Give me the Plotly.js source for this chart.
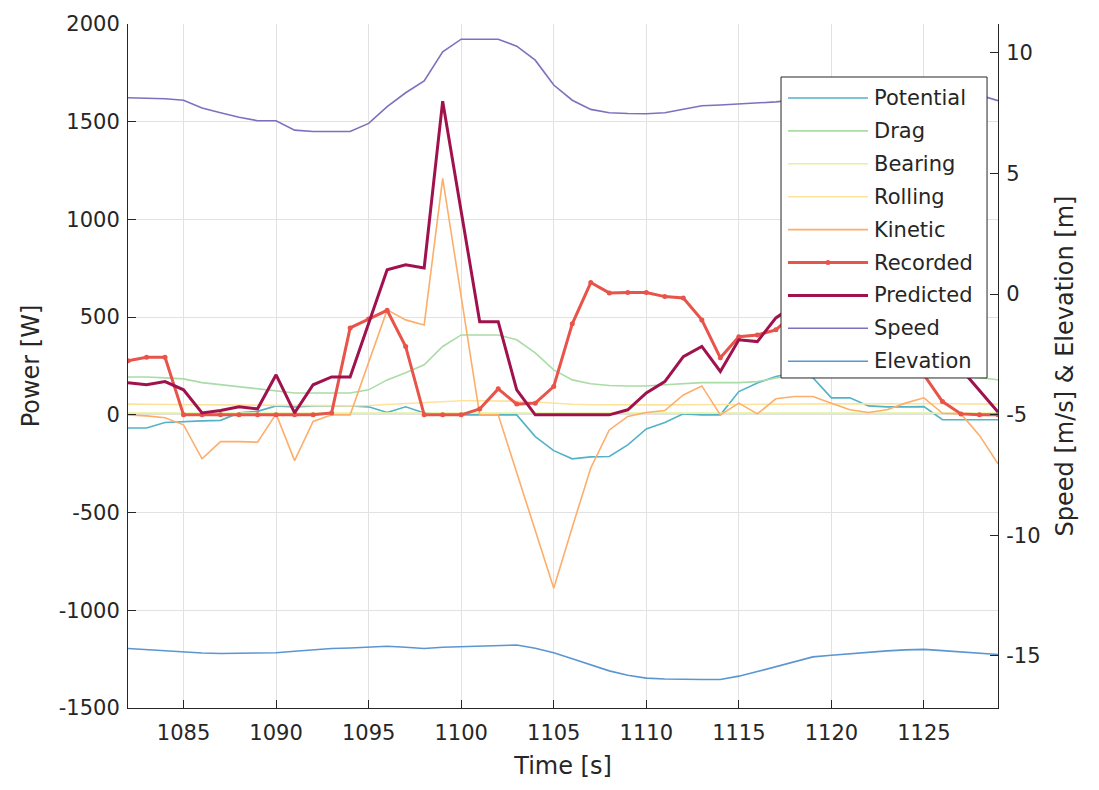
<!DOCTYPE html>
<html>
<head>
<meta charset="utf-8">
<script src="https://cdn.plot.ly/plotly-3.0.1.min.js"></script>
<style>
  html, body { margin: 0; padding: 0; background: #ffffff; }
  #chart { width: 1099px; height: 790px; }
</style>
</head>
<body>
<div id="chart"></div>
<script>
// Time stamps [s]
const time = [1082, 1083, 1084, 1085, 1086, 1087, 1088, 1089, 1090, 1091,
              1092, 1093, 1094, 1095, 1096, 1097, 1098, 1099, 1100, 1101,
              1102, 1103, 1104, 1105, 1106, 1107, 1108, 1109, 1110, 1111,
              1112, 1113, 1114, 1115, 1116, 1117, 1118, 1119, 1120, 1121,
              1122, 1123, 1124, 1125, 1126, 1127, 1128, 1129];

// Power components [W]
const potential = [-67, -67, -39, -34, -31, -28, 10, 18, 46, 41,
                   45, 45, 45, 41, 12, 41, 10, 0, 0, 0,
                   0, 0, -111, -183, -225, -215, -213, -154, -72, -39,
                   5, 0, 0, 119, 163, 196, 215, 190, 87, 87,
                   46, 41, 41, 42, -25, -25, -25, -25];

const drag = [194, 194, 189, 184, 165, 154, 143, 133, 123, 112,
              112, 112, 112, 128, 179, 215, 256, 350, 409, 409,
              409, 384, 317, 230, 179, 159, 150, 148, 148, 154,
              159, 165, 165, 165, 170, 189, 200, 215, 225, 225,
              220, 210, 205, 200, 198, 196, 190, 180];

const bearing = [9, 9, 9, 9, 9, 9, 9, 8, 8, 8,
                 8, 8, 8, 8, 9, 9, 10, 11, 11, 11,
                 11, 11, 11, 10, 9, 9, 9, 9, 9, 9,
                 9, 9, 9, 9, 9, 9, 9, 9, 9, 9,
                 9, 9, 9, 9, 9, 9, 9, 9];

const rolling = [55, 55, 55, 54, 52, 51, 50, 49, 49, 46,
                 46, 46, 46, 48, 53, 57, 60, 68, 72, 72,
                 72, 70, 66, 59, 54, 52, 51, 51, 51, 51,
                 52, 53, 53, 54, 54, 54, 55, 55, 56, 56,
                 57, 57, 57, 57, 57, 57, 56, 55];

const kinetic = [0, -5, -15, -51, -225, -137, -137, -140, 5, -234,
                 -34, 0, 0, 265, 537, 486, 460, 1210, 605, 0,
                 0, -295, -590, -887, -575, -272, -77, -8, 12, 22,
                 102, 148, 0, 60, 5, 82, 94, 94, 60, 26,
                 12, 26, 60, 87, 8, 5, -105, -250];

const recorded = [277, 295, 295, 0, 0, 0, 0, 0, 0, 0,
                  0, 10, 445, 490, 535, 350, 0, 0, 0, 30,
                  133, 55, 60, 145, 466, 677, 624, 626, 626, 605,
                  598, 486, 292, 400, 409, 435, 520, 560, 600, 580,
                  540, 450, 330, 205, 68, 5, 0, 0];

const predicted = [164, 154, 170, 128, 10, 22, 41, 31, 205, 10,
                   154, 194, 194, 470, 742, 768, 752, 1605, 1041, 477,
                   477, 128, 0, 0, 0, 0, 0, 26, 112, 170,
                   298, 350, 222, 384, 375, 496, 560, 600, 610, 590,
                   560, 500, 420, 360, 300, 235, 125, 15];

// Speed [m/s] and elevation [m], right axis
const speed = [8.14, 8.12, 8.10, 8.04, 7.72, 7.52, 7.33, 7.19, 7.19, 6.80,
               6.74, 6.74, 6.74, 7.08, 7.77, 8.35, 8.84, 10.05, 10.57, 10.57,
               10.57, 10.28, 9.70, 8.67, 8.04, 7.66, 7.52, 7.49, 7.48, 7.52,
               7.66, 7.81, 7.84, 7.88, 7.90, 7.97, 8.05, 8.15, 8.25, 8.30,
               8.35, 8.40, 8.45, 8.45, 8.45, 8.40, 8.25, 8.02];

const elevation = [-14.69, -14.74, -14.79, -14.83, -14.88, -14.90, -14.90, -14.90, -14.87, -14.81,
                   -14.75, -14.69, -14.67, -14.65, -14.60, -14.64, -14.69, -14.64, -14.62, -14.60,
                   -14.56, -14.55, -14.68, -14.87, -15.12, -15.38, -15.62, -15.80, -15.92, -15.96,
                   -15.98, -15.98, -15.98, -15.84, -15.65, -15.45, -15.25, -15.04, -14.97, -14.90,
                   -14.83, -14.79, -14.75, -14.73, -14.78, -14.84, -14.90, -14.94];

const xTicks = [1085, 1090, 1095, 1100, 1105, 1110, 1115, 1120, 1125];
const yTicks = [-1500, -1000, -500, 0, 500, 1000, 1500, 2000];
const y2Ticks = [-15, -10, -5, 0, 5, 10];

const FONT = '"DejaVu Sans", "Liberation Sans", Arial, sans-serif';
const INK = '#262626';

function series(name, y, color, width, axis, extra) {
  return Object.assign({
    type: 'scatter', mode: 'lines', name: name, x: time, y: y,
    yaxis: axis, showlegend: false,
    line: { color: color, width: width }
  }, extra || {});
}

const traces = [
  series('Potential', potential, '#52b2c6', 1.6, 'y'),
  series('Drag', drag, '#aadca6', 1.6, 'y'),
  series('Bearing', bearing, '#e4f39a', 1.6, 'y'),
  series('Rolling', rolling, '#fde39a', 1.6, 'y'),
  series('Kinetic', kinetic, '#fdae6b', 1.6, 'y'),
  series('Recorded', recorded, '#e8534a', 3, 'y', {
    mode: 'lines+markers',
    marker: { symbol: 'circle', size: 5, color: '#e8534a' }
  }),
  series('Predicted', predicted, '#a0124e', 3, 'y'),
  series('Speed', speed, '#7f70bf', 1.6, 'y2'),
  series('Elevation', elevation, '#5b96d2', 1.6, 'y2')
];

// Legend box (paper coordinates): long line swatches followed by the names
const legendBox = { x0: 0.7506, x1: 0.9874, y0: 0.4825, y1: 0.9225 };
const legendRow0 = 0.8918, legendRowStep = 0.0481;
const swatchX0 = 0.7586, swatchX1 = 0.8506, labelX = 0.8552;

const shapes = [{
  type: 'rect', xref: 'paper', yref: 'paper', layer: 'above',
  x0: legendBox.x0, x1: legendBox.x1, y0: legendBox.y0, y1: legendBox.y1,
  fillcolor: '#ffffff', line: { color: INK, width: 1 }
}];
const annotations = [];
traces.forEach(function (t, i) {
  const yy = legendRow0 - i * legendRowStep;
  shapes.push({
    type: 'line', xref: 'paper', yref: 'paper', layer: 'above',
    x0: swatchX0, x1: swatchX1, y0: yy, y1: yy,
    line: { color: t.line.color, width: t.line.width }
  });
  if (t.mode === 'lines+markers') {
    const cx = (swatchX0 + swatchX1) / 2;
    shapes.push({
      type: 'circle', xref: 'paper', yref: 'paper', layer: 'above',
      x0: cx - 0.0029, x1: cx + 0.0029, y0: yy - 0.0037, y1: yy + 0.0037,
      fillcolor: t.marker.color, line: { color: t.marker.color, width: 0 }
    });
  }
  annotations.push({
    xref: 'paper', yref: 'paper', x: labelX, y: yy,
    xanchor: 'left', yanchor: 'middle', showarrow: false,
    text: t.name, font: { family: FONT, size: 21, color: INK }
  });
});

const tickFont = { family: FONT, size: 21, color: INK };
const titleFont = { family: FONT, size: 24, color: INK };

const layout = {
  width: 1099, height: 790,
  margin: { l: 128, r: 101, t: 24, b: 82, pad: 0 },
  paper_bgcolor: '#ffffff', plot_bgcolor: '#ffffff',
  font: { family: FONT, size: 21, color: INK },
  showlegend: false,
  shapes: shapes,
  annotations: annotations,
  xaxis: {
    range: [1082, 1129], tickvals: xTicks, ticktext: xTicks.map(String),
    ticks: 'inside', ticklen: 8, tickcolor: INK, tickwidth: 1,
    showline: true, linecolor: INK, linewidth: 1,
    showgrid: true, gridcolor: '#e2e2e2', gridwidth: 1,
    zeroline: false, automargin: false, tickfont: tickFont, ticklabelstandoff: 6,
    title: { text: 'Time [s]', font: titleFont, standoff: 12 }
  },
  yaxis: {
    range: [-1500, 2000], tickvals: yTicks, ticktext: yTicks.map(String),
    ticks: 'inside', ticklen: 8, tickcolor: INK, tickwidth: 1,
    showline: true, linecolor: INK, linewidth: 1,
    showgrid: true, gridcolor: '#e2e2e2', gridwidth: 1,
    zeroline: false, automargin: false, tickfont: tickFont, ticklabelstandoff: 3,
    title: { text: 'Power [W]', font: titleFont, standoff: 12 }
  },
  yaxis2: {
    overlaying: 'y', side: 'right',
    range: [-17.16, 11.2], tickvals: y2Ticks, ticktext: y2Ticks.map(String),
    ticks: 'inside', ticklen: 8, tickcolor: INK, tickwidth: 1,
    showline: true, linecolor: INK, linewidth: 1,
    showgrid: false, zeroline: false, automargin: false, tickfont: tickFont, ticklabelstandoff: 3,
    title: { text: 'Speed [m/s] & Elevation [m]', font: titleFont, standoff: 16 }
  }
};

Plotly.newPlot('chart', traces, layout, { displayModeBar: false, staticPlot: true });
</script>
</body>
</html>
